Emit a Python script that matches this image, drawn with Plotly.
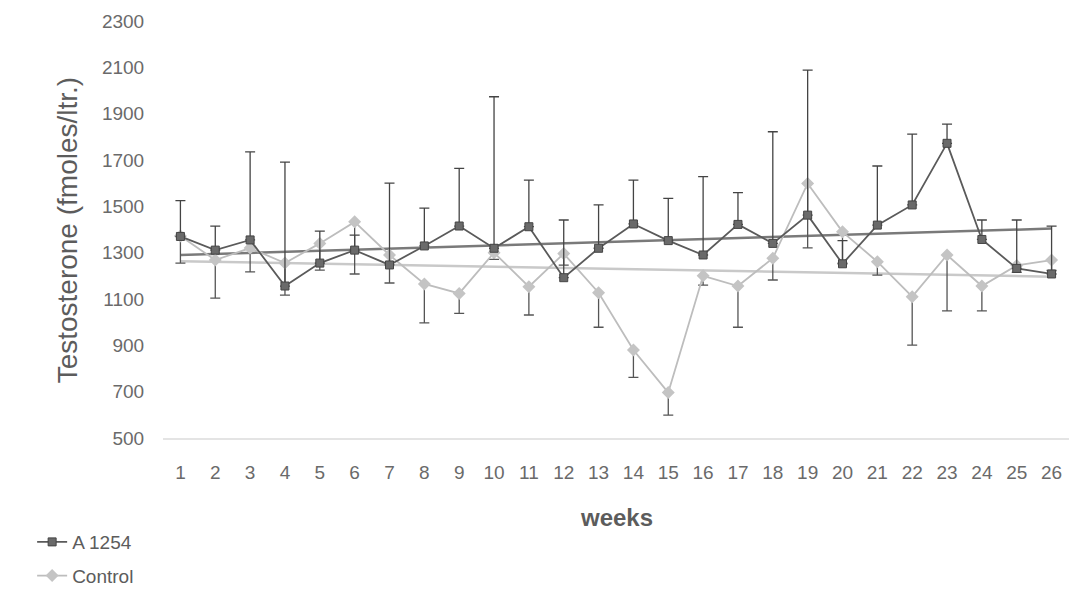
import numpy as np
import plotly.graph_objects as go

weeks = list(range(1, 27))
week_labels = [str(w) for w in weeks]

a1254 = [1370, 1311, 1355, 1156, 1255, 1311, 1247, 1329, 1415, 1319, 1412, 1192, 1319,
         1424, 1352, 1290, 1422, 1340, 1462, 1252, 1419, 1506, 1772, 1357, 1232, 1208]
a1254_err_plus = [155, 104, 380, 535, 138, 65, 353, 163, 249, 654, 201, 249, 187,
                  189, 182, 338, 137, 482, 626, 100, 255, 306, 83, 84, 209, 207]

control = [1372, 1268, 1320, 1255, 1340, 1433, 1290, 1165, 1124, 1300, 1153, 1296, 1127,
           880, 696, 1200, 1156, 1276, 1599, 1390, 1261, 1110, 1290, 1156, 1245, 1268]
control_err_minus = [117, 164, 103, 138, 115, 225, 121, 168, 86, 29, 122, 50, 149,
                     118, 97, 40, 178, 94, 278, 135, 58, 209, 241, 107, 30, 45]

y_ticks = list(range(500, 2301, 200))

zeros = [0] * len(weeks)

x = np.array(weeks, dtype=float)
a_fit = np.polyval(np.polyfit(x, a1254, 1), x)
c_fit = np.polyval(np.polyfit(x, control, 1), x)

DARK = "#5a5a5a"
LIGHT = "#bdbdbd"
TXT = "#5c5c5c"
TICK = "#6a6a6a"
FONT = "Liberation Sans, Arial, sans-serif"

fig = go.Figure()

# trend lines
fig.add_trace(go.Scatter(x=weeks, y=c_fit, mode="lines", showlegend=False,
                         line=dict(color="#c9c9c9", width=2.5), hoverinfo="skip"))
fig.add_trace(go.Scatter(x=weeks, y=a_fit, mode="lines", showlegend=False,
                         line=dict(color="#7a7a7a", width=2.5), hoverinfo="skip"))

fig.add_trace(go.Scatter(
    x=weeks, y=control, name="Control", mode="lines+markers", legendgroup="c",
    legendrank=2,
    line=dict(color=LIGHT, width=1.8),
    marker=dict(symbol="diamond", size=10, color="#c4c4c4"),
    error_y=dict(type="data", symmetric=False, array=zeros, arrayminus=control_err_minus,
                 color="#555555", thickness=1.3, width=5),
))
fig.add_trace(go.Scatter(
    x=weeks, y=a1254, name="A 1254", mode="lines+markers", legendgroup="a",
    legendrank=1,
    line=dict(color=DARK, width=1.8),
    marker=dict(symbol="square", size=8, color="#6a6a6a", line=dict(color="#444", width=1)),
    error_y=dict(type="data", symmetric=False, array=a1254_err_plus, arrayminus=zeros,
                 color="#444444", thickness=1.3, width=5),
))

fig.update_layout(
    width=1071, height=593,
    margin=dict(l=163, r=2, t=21, b=155, autoexpand=False),
    paper_bgcolor="white", plot_bgcolor="white",
    font=dict(family=FONT, color=TXT, size=19),
    legend=dict(xref="container", yref="container", x=0.03, y=0.118,
                xanchor="left", yanchor="top", traceorder="grouped",
                tracegroupgap=6, font=dict(size=19, color=TXT),
                bgcolor="rgba(0,0,0,0)"),
    showlegend=True,
)
fig.update_xaxes(
    type="linear", range=[0.5, 26.5], tickmode="array", tickvals=weeks, ticktext=week_labels,
    showgrid=False, zeroline=False, showline=True, linecolor="#e4e4e4", linewidth=2,
    ticks="outside", ticklen=16, tickcolor="rgba(0,0,0,0)", automargin=False,
    tickfont=dict(size=19, color=TICK),
)
fig.update_yaxes(
    range=[500, 2300], tickmode="array", tickvals=y_ticks,
    showgrid=False, zeroline=False, showline=False, automargin=False,
    ticks="outside", ticklen=14, tickcolor="rgba(0,0,0,0)",
    tickfont=dict(size=19, color=TICK),
)

fig.add_annotation(text="Testosterone (fmoles/ltr.)", xref="paper", yref="paper",
                   x=-0.105, y=0.5, xanchor="center", yanchor="middle", textangle=-90,
                   showarrow=False,
                   font=dict(family=FONT, size=28, color=TXT))
fig.add_annotation(text="<b>weeks</b>", xref="paper", yref="paper",
                   x=0.5, y=-0.19, xanchor="center", yanchor="middle", showarrow=False,
                   font=dict(family=FONT, size=24, color=TXT))

fig.write_html("out.html")
